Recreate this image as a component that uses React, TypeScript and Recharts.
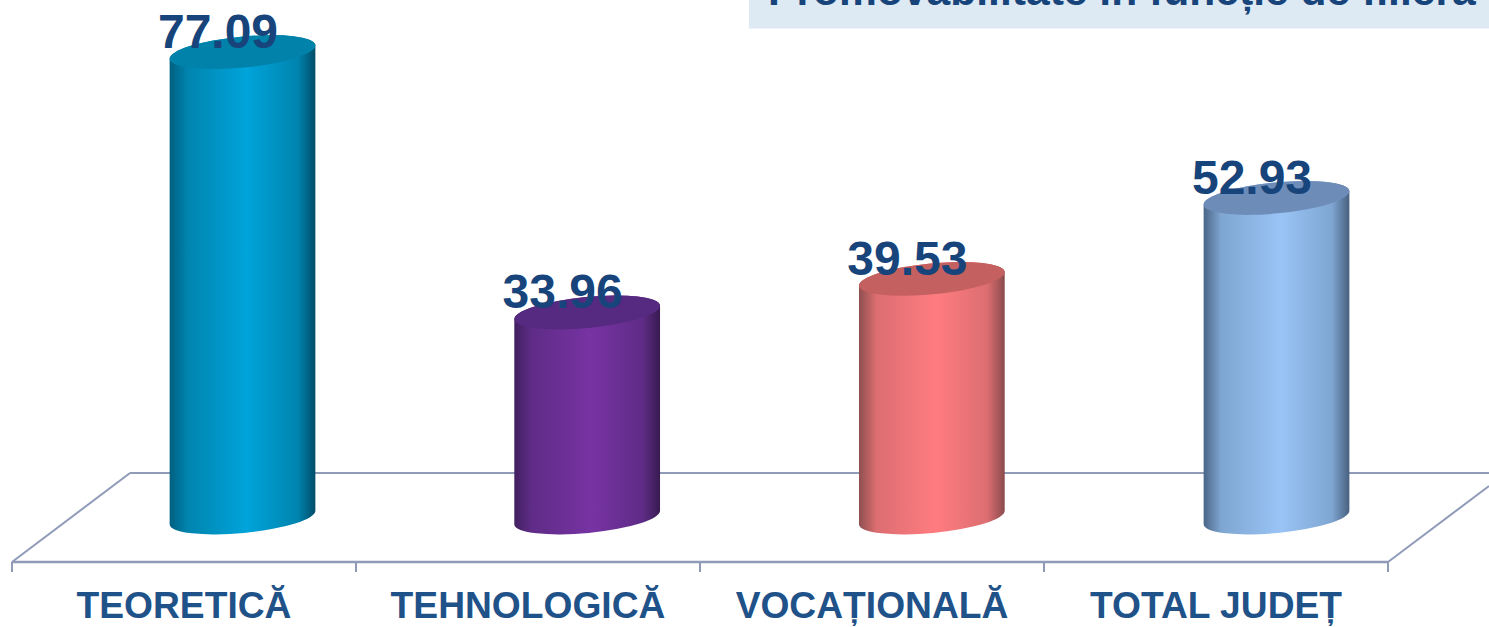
import { BarChart, Bar, XAxis, YAxis, LabelList } from "recharts";

const categories = ["TEORETICĂ", "TEHNOLOGICĂ", "VOCAȚIONALĂ", "TOTAL JUDEȚ"];
const values = [77.09, 33.96, 39.53, 52.93];
const chartTitle = "Promovabilitate în funcție de filieră";

// edge, shoulder, middle, cap colours for each cylinder
const edgeLeft = ["#005f80", "#42205f", "#8f4f50", "#4a6586"];
const edgeRight = ["#004c68", "#371a50", "#8a4a4c", "#48607f"];
const shoulder = ["#0084ae", "#5f2c87", "#dc6e71", "#7fa6d2"];
const middle = ["#00a4da", "#7733a3", "#ff7c80", "#99c4f5"];
const caps = ["#0082aa", "#552a80", "#c4605f", "#6d8db8"];

const data = categories.map((name, i) => ({ name, value: values[i] }));

const WIDTH = 1489;
const HEIGHT = 627;
const AXIS_Y = 562;
const BAND = 344;
// the bars stand half way back on the floor, slightly wider apart than the front ticks
const DEPTH_X = 58.5;
const DEPTH_Y = 44.5;
const SPREAD = 0.67;
const RX = 73.2;
const RY = 15.5;
const TILT = -5.5;

const axisColor = "#8f9bb8";
const labelColor = "#17447a";
const tickColor = "#1f5289";
const font = "'Liberation Sans', Arial, sans-serif";

function Cylinder(props: any) {
  const { x, y, width, height, index } = props;
  const cx = x + width / 2 + DEPTH_X + index * SPREAD;
  const top = y - DEPTH_Y;
  const bottom = y + height - DEPTH_Y;
  const dx = RX * Math.cos((TILT * Math.PI) / 180);
  const dy = RX * Math.sin((TILT * Math.PI) / 180);
  const body =
    `M ${cx - dx} ${top - dy} L ${cx - dx} ${bottom - dy} ` +
    `A ${RX} ${RY} ${TILT} 0 0 ${cx + dx} ${bottom + dy} ` +
    `L ${cx + dx} ${top + dy} ` +
    `A ${RX} ${RY} ${TILT} 0 0 ${cx - dx} ${top - dy} Z`;
  return (
    <g>
      <path d={body} fill={`url(#cyl${index})`} />
      <ellipse
        cx={cx}
        cy={top}
        rx={RX}
        ry={RY}
        fill={caps[index]}
        transform={`rotate(${TILT} ${cx} ${top})`}
      />
    </g>
  );
}

function ValueLabel(props: any) {
  const { x, y, width, value, index } = props;
  return (
    <text
      x={x + width / 2 + DEPTH_X - 24.5 + index * SPREAD}
      y={y - DEPTH_Y - 4}
      textAnchor="middle"
      fontFamily={font}
      fontWeight="bold"
      fontSize={48}
      fill={labelColor}
    >
      {value.toFixed(2)}
    </text>
  );
}

function CategoryTick(props: any) {
  const { x, payload, index } = props;
  const left = x - BAND / 2;
  const right = x + BAND / 2;
  return (
    <g>
      <line x1={left} y1={AXIS_Y} x2={left} y2={572} stroke={axisColor} strokeWidth={2} />
      {index === categories.length - 1 && (
        <line x1={right} y1={AXIS_Y} x2={right} y2={572} stroke={axisColor} strokeWidth={2} />
      )}
      <text
        x={x}
        y={618}
        textAnchor="middle"
        fontFamily={font}
        fontWeight="bold"
        fontSize={37.2}
        fill={tickColor}
      >
        {payload.value}
      </text>
    </g>
  );
}

export default function App() {
  return (
    <div style={{ position: "absolute", left: 0, top: 0, width: WIDTH, height: HEIGHT, overflow: "hidden" }}>
      <BarChart
        width={WIDTH}
        height={HEIGHT}
        data={data}
        margin={{ top: 79, right: 101, bottom: 0, left: 12 }}
        barSize={146}
      >
        <defs>
          {categories.map((_, i) => (
            <linearGradient key={i} id={`cyl${i}`} x1="0" y1="0" x2="1" y2="0">
              <stop offset="0%" stopColor={edgeLeft[i]} />
              <stop offset="12%" stopColor={shoulder[i]} />
              <stop offset="53%" stopColor={middle[i]} />
              <stop offset="88%" stopColor={shoulder[i]} />
              <stop offset="100%" stopColor={edgeRight[i]} />
            </linearGradient>
          ))}
        </defs>

        <rect x={749} y={0} width={740} height={28.5} fill="#dde9f3" />
        <text x={768} y={5} fontFamily={font} fontWeight="bold" fontSize={42.6} fill={labelColor}>
          {chartTitle}
        </text>

        {/* floor of the 3D plot */}
        <line x1={12} y1={AXIS_Y} x2={130} y2={473} stroke={axisColor} strokeWidth={2} />
        <line x1={130} y1={473} x2={1489} y2={473} stroke={axisColor} strokeWidth={2} />
        <line x1={1388} y1={AXIS_Y} x2={1489} y2={486} stroke={axisColor} strokeWidth={2} />

        <XAxis
          dataKey="name"
          height={65}
          interval={0}
          tickLine={false}
          axisLine={{ stroke: axisColor, strokeWidth: 2.5 }}
          tick={<CategoryTick />}
        />
        <YAxis hide domain={[0, 80]} />
        <Bar dataKey="value" shape={<Cylinder />} isAnimationActive={false}>
          <LabelList dataKey="value" content={<ValueLabel />} />
        </Bar>
      </BarChart>
    </div>
  );
}
